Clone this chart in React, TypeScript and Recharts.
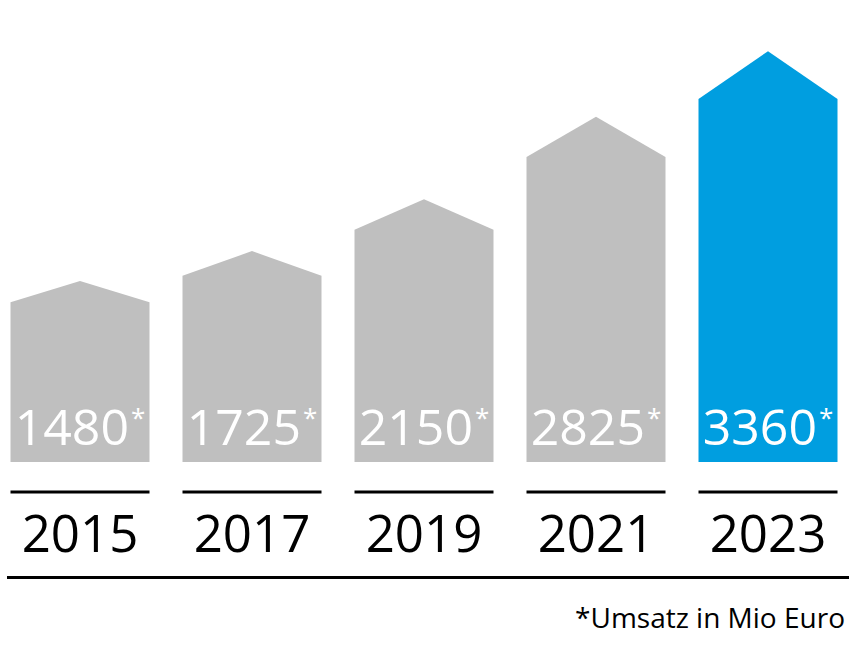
import { BarChart, Bar, XAxis, YAxis, Cell, LabelList } from "recharts";

const years = ["2015", "2017", "2019", "2021", "2023"];
const revenue = [1480, 1725, 2150, 2825, 3360];
const barColors = ["#bfbfbf", "#bfbfbf", "#bfbfbf", "#bfbfbf", "#009ee0"];

const data = years.map((year, i) => ({ year, revenue: revenue[i] }));

const FONT = "'Open Sans', sans-serif";

// house shaped bar: the value sits at the shoulders, roof goes on top
function HouseBar(props: any) {
    const { x, y, width, height, fill } = props;
    const roof = height * 0.132;
    const d = `M${x},${y + height} L${x},${y} L${x + width / 2},${y - roof} L${x + width},${y} L${x + width},${y + height} Z`;
    return <path d={d} fill={fill} />;
}

function ValueLabel(props: any) {
    const { x, y, width, height, value } = props;
    return (
        <text x={x + width / 2} y={y + height - 17} textAnchor="middle" fill="#fff" fontSize={50} fontFamily={FONT}>
            {value}
            <tspan fontSize={26} dy={-18} dx={2}>*</tspan>
        </text>
    );
}

function YearTick(props: any) {
    const { x, y, payload } = props;
    return (
        <g>
            <line x1={x - 69.5} x2={x + 69.5} y1={y + 22} y2={y + 22} stroke="#000" strokeWidth={3} />
            <text x={x} y={y + 82} textAnchor="middle" fill="#000" fontSize={51} fontFamily={FONT}>
                {payload.value}
            </text>
        </g>
    );
}

export default function App() {
    return (
        <div style={{ position: "absolute", left: 0, top: 0, width: 856, height: 666, background: "#fff" }}>
            <BarChart width={856} height={666} data={data} margin={{ top: 30, right: 2, bottom: 104, left: -6 }} barCategoryGap={16.5}>
                <YAxis hide domain={[0, 4000]} />
                <XAxis dataKey="year" height={100} axisLine={false} tickLine={false} tick={<YearTick />} interval={0} />
                <Bar dataKey="revenue" shape={<HouseBar />} isAnimationActive={false}>
                    {data.map((d, i) => (
                        <Cell key={d.year} fill={barColors[i]} />
                    ))}
                    <LabelList dataKey="revenue" content={<ValueLabel />} />
                </Bar>
            </BarChart>
            <div style={{ position: "absolute", left: 7, top: 575.5, width: 842, height: 3, background: "#000" }} />
            <div
                style={{
                    position: "absolute",
                    right: 11,
                    top: 599,
                    fontFamily: FONT,
                    fontSize: 28,
                    lineHeight: "36px",
                    color: "#000",
                    whiteSpace: "nowrap",
                }}
            >
                *Umsatz in Mio Euro
            </div>
        </div>
    );
}
